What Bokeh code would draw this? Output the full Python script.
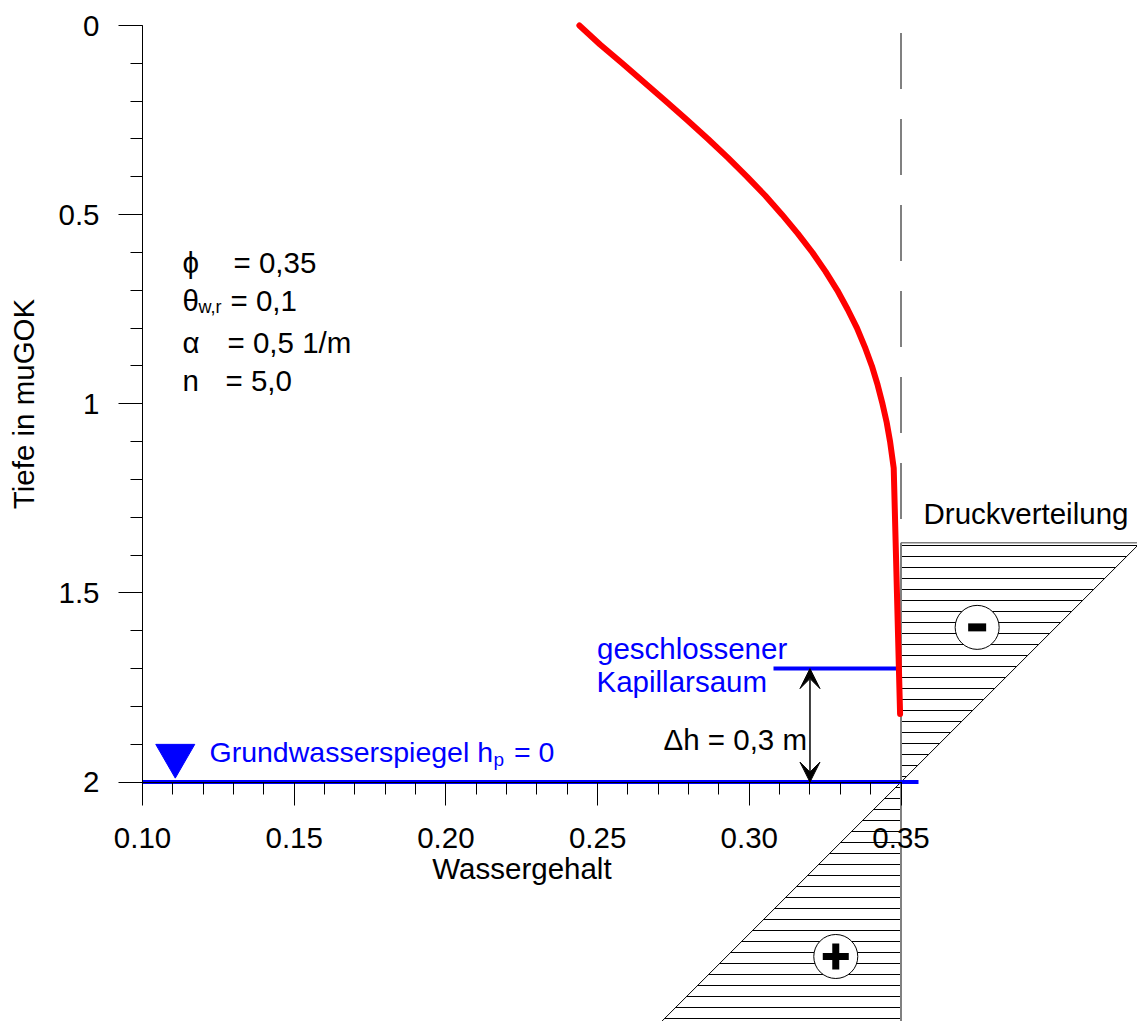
from bokeh.plotting import figure
from bokeh.models import Range1d, LinearAxis, FixedTicker, Label, Arrow, VeeHead
from bokeh.embed import file_html
from bokeh.resources import INLINE

# ---------------- data ----------------
depth_m = [0.00, 0.05, 0.10, 0.15, 0.20, 0.25, 0.30, 0.35, 0.40, 0.45, 0.50, 0.55, 0.60,
           0.65, 0.70, 0.75, 0.80, 0.85, 0.90, 0.95, 1.00, 1.05, 1.10, 1.17, 1.82]
water_content = [0.2440, 0.2508, 0.2581, 0.2653, 0.2725, 0.2795, 0.2864, 0.2930, 0.2993,
                 0.3053, 0.3108, 0.3160, 0.3208, 0.3251, 0.3290, 0.3324, 0.3355, 0.3381,
                 0.3404, 0.3423, 0.3439, 0.3453, 0.3464, 0.3476, 0.3497]

porosity = 0.35
water_table_depth = 2.0
fringe_depth = 1.7
arrow_theta = 0.32
pressure_top_depth = 1.367
pressure_bottom_depth = 2.75
wt_symbol_theta = [0.1108]
wt_symbol_depth = [1.930]
sign_theta = [0.3751, 0.3285]
sign_depth = [1.591, 2.461]

x_major_ticks = [0.10, 0.15, 0.20, 0.25, 0.30, 0.35]
x_tick_labels = ["0.10", "0.15", "0.20", "0.25", "0.30", "0.35"]
x_minor_ticks = [0.10, 0.11, 0.12, 0.13, 0.14, 0.15, 0.16, 0.17, 0.18, 0.19, 0.20, 0.21, 0.22,
                 0.23, 0.24, 0.25, 0.26, 0.27, 0.28, 0.29, 0.30, 0.31, 0.32, 0.33, 0.34, 0.35]
y_major_ticks = [0, 0.5, 1, 1.5, 2]
y_tick_labels = ["0", "0.5", "1", "1.5", "2"]
y_minor_ticks = [0.0, 0.1, 0.2, 0.3, 0.4, 0.5, 0.6, 0.7, 0.8, 0.9, 1.0,
                 1.1, 1.2, 1.3, 1.4, 1.5, 1.6, 1.7, 1.8, 1.9, 2.0]

# ---------------- layout calibration ----------------
W, H = 1137, 1021
PX0, PX1 = 142.0, 900.5     # pixel of x = 0.10 and 0.35
PY0, PY1 = 25.0, 781.6      # pixel of depth 0 and 2
xs = 0.25 / (PX1 - PX0)
XMIN = 0.10 - PX0 * xs
XMAX = XMIN + W * xs
ys = 2.0 / (PY1 - PY0)
YTOP = -PY0 * ys
YBOT = YTOP + H * ys


def X(px):
    return XMIN + px * xs


def Y(py):
    return YTOP + py * ys


PSCALE = xs / ys  # x-units per metre of pressure head (45 degree line)

FONT = "Liberation Sans"
FS = "29.5px"
BLUE = "#0000FF"
RED = "#FF0000"
GRAY = "#808080"
LABEL_DY = -10  # baseline correction for Label placement

p = figure(width=W, height=H, x_range=Range1d(XMIN, XMAX), y_range=Range1d(YBOT, YTOP),
           x_axis_type=None, y_axis_type=None, toolbar_location=None,
           output_backend="svg", min_border=0, outline_line_color=None,
           background_fill_color="white", border_fill_color="white")

# ---------------- axes ----------------
yaxis = LinearAxis(fixed_location=0.10, bounds=(0, 2),
                   ticker=FixedTicker(ticks=y_major_ticks, minor_ticks=y_minor_ticks),
                   major_label_overrides=dict(zip(y_major_ticks, y_tick_labels)),
                   axis_label="Tiefe in muGOK")
xaxis = LinearAxis(fixed_location=water_table_depth, bounds=(0.10, 0.35),
                   ticker=FixedTicker(ticks=x_major_ticks, minor_ticks=x_minor_ticks),
                   major_label_overrides=dict(zip(x_major_ticks, x_tick_labels)),
                   axis_label="Wassergehalt")
for ax in (xaxis, yaxis):
    ax.axis_line_color = "black"
    ax.axis_line_width = 1
    ax.major_tick_line_color = "black"
    ax.minor_tick_line_color = "black"
    ax.major_tick_in = 0
    ax.minor_tick_in = 0
    ax.minor_tick_out = 12
    ax.major_label_text_font = FONT
    ax.major_label_text_font_size = FS
    ax.major_label_text_color = "black"
    ax.axis_label_text_font = FONT
    ax.axis_label_text_font_size = FS
    ax.axis_label_text_font_style = "normal"
    ax.axis_label_text_color = "black"
yaxis.major_tick_out = 24
yaxis.major_label_standoff = 19
yaxis.axis_label_standoff = 15
xaxis.major_tick_out = 23
xaxis.major_label_standoff = 23
xaxis.axis_label_standoff = 0
p.add_layout(yaxis, "left")
p.add_layout(xaxis, "below")

# ---------------- pressure distribution ----------------
top_head = water_table_depth - pressure_top_depth       # suction (to the right)
bot_head = pressure_bottom_depth - water_table_depth    # pressure (to the left)
x_top_right = porosity + top_head * PSCALE
x_bot_left = porosity - bot_head * PSCALE

hatch = dict(fill_color=None, line_color=None, hatch_pattern="horizontal_line",
             hatch_color="black", hatch_scale=11, hatch_weight=1)
p.patch([porosity, x_top_right, porosity], [pressure_top_depth, pressure_top_depth, water_table_depth], **hatch)
p.patch([porosity, porosity, x_bot_left], [water_table_depth, pressure_bottom_depth, pressure_bottom_depth], **hatch)

p.line([x_top_right, x_bot_left], [pressure_top_depth, pressure_bottom_depth], line_color="black", line_width=1)
p.line([porosity, x_top_right + 0.01], [pressure_top_depth, pressure_top_depth], line_color=GRAY, line_width=1.5)
p.line([porosity, porosity], [pressure_top_depth, pressure_bottom_depth], line_color=GRAY, line_width=2)
p.line([porosity, porosity], [0.02, pressure_top_depth], line_color=GRAY, line_width=2, line_dash="56 30")

# ---------------- water levels ----------------
p.line([0.10, X(918)], [water_table_depth, water_table_depth], line_color=BLUE, line_width=4)
p.line([X(773), porosity], [fringe_depth, fringe_depth], line_color=BLUE, line_width=4)

# ---------------- water content profile ----------------
p.line(water_content, depth_m, line_color=RED, line_width=6, line_cap="round", line_join="round")

# ---------------- symbols ----------------
p.scatter(wt_symbol_theta, wt_symbol_depth, marker="inverted_triangle", size=39,
          fill_color=BLUE, line_color=BLUE)
p.scatter(sign_theta, sign_depth, marker="circle", size=44, fill_color="white",
          line_color="black", line_width=1)
p.rect([sign_theta[0]], [sign_depth[0]], width=18, height=8, width_units="screen",
       height_units="screen", fill_color="black", line_color=None)
p.scatter([sign_theta[1]], [sign_depth[1]], marker="cross", size=26, line_width=7, line_color="black")

p.add_layout(Arrow(x_start=arrow_theta, y_start=water_table_depth, x_end=arrow_theta, y_end=fringe_depth,
                   line_color="black", line_width=1.5,
                   start=VeeHead(size=20, fill_color="black", line_color="black"),
                   end=VeeHead(size=20, fill_color="black", line_color="black")))


# ---------------- texts ----------------
def lab(text, px, py, size=FS, color="black"):
    p.add_layout(Label(x=X(px), y=Y(py + LABEL_DY), text=text, text_font=FONT, text_font_size=size,
                       text_color=color, text_align="left", text_baseline="alphabetic"))


lab("\u03d5", 182, 272)
lab("= 0,35", 233, 272)
lab("\u03b8", 182, 310)
lab("w,r", 198, 316, size="18px")
lab("= 0,1", 230, 310)
lab("\u03b1", 182, 352)
lab("= 0,5 1/m", 227, 352)
lab("n", 182, 390)
lab("= 5,0", 225, 390)

lab("Grundwasserspiegel h", 209, 761.7, size="28.5px", color=BLUE)
lab("p", 493, 768.5, size="19px", color=BLUE)
lab("= 0", 513.5, 761.7, size="28.5px", color=BLUE)

lab("geschlossener", 596.5, 658, color=BLUE)
lab("Kapillarsaum", 596, 691, color=BLUE)
lab("\u0394h = 0,3 m", 663, 749.3)
lab("Druckverteilung", 923, 523)

open("out.html", "w").write(file_html(p, INLINE))
